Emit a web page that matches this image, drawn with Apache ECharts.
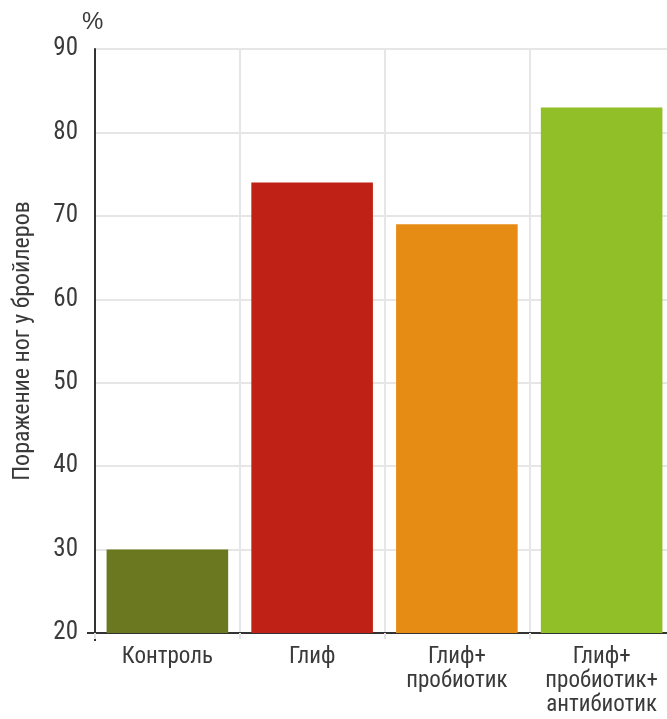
<!DOCTYPE html>
<html>
<head>
<meta charset="utf-8">
<script src="https://cdn.jsdelivr.net/npm/echarts@6/dist/echarts.min.js"></script>
<style>
  html, body { margin: 0; padding: 0; background: #fff; overflow: hidden; }
  #chart { width: 674px; height: 719px; }
</style>
</head>
<body>
<div id="chart"></div>
<script>
// Leg lesion rate in broilers by treatment group, %
const categories = ['Контроль', 'Глиф', 'Глиф+\nпробиотик', 'Глиф+\nпробиотик+\nантибиотик'];
const values = [30, 74, 69, 83];
const barColors = ['#6b781f', '#c02116', '#e68c15', '#91bf27'];
const yTicks = { min: 20, max: 90, step: 10 };

const condensed = '"Roboto Condensed", "Liberation Sans Narrow", "Liberation Sans", Arial, sans-serif';
const textColor = '#3a3a3a';

const chart = echarts.init(document.getElementById('chart'));
chart.setOption({
  animation: false,
  title: {
    text: '%', left: 82, top: 10, padding: 0,
    textStyle: { color: textColor, fontFamily: '"Liberation Sans", Arial, sans-serif', fontSize: 24, fontWeight: 'normal' }
  },
  grid: { left: 95, right: 0, top: 49, bottom: 86, outerBoundsMode: 'none', containLabel: false },
  xAxis: {
    type: 'category',
    data: categories,
    boundaryGap: true,
    axisLine: { lineStyle: { color: '#333', width: 2 } },
    axisTick: { show: true, length: 6, lineStyle: { color: '#e3e3e3', width: 2 } },
    splitLine: { show: true, lineStyle: { color: '#e6e6e6', width: 2 } },
    axisLabel: {
      color: textColor, fontFamily: condensed, fontSize: 23, lineHeight: 24,
      margin: 12, interval: 0
    }
  },
  yAxis: {
    type: 'value',
    min: yTicks.min, max: yTicks.max, interval: yTicks.step,
    name: 'Поражение ног у бройлеров',
    nameLocation: 'middle',
    nameRotate: 90,
    nameGap: 60,
    nameTextStyle: { color: textColor, fontFamily: condensed, fontSize: 24 },
    axisLine: { show: true, lineStyle: { color: '#333', width: 2 } },
    axisTick: { show: false },
    splitLine: { show: true, lineStyle: { color: '#e6e6e6', width: 2 } },
    axisLabel: { color: textColor, fontFamily: condensed, fontSize: 25, margin: 17 }
  },
  series: [{
    type: 'bar',
    data: values.map((v, i) => ({ value: v, itemStyle: { color: barColors[i] } })),
    barCategoryGap: '16%'
  }]
});

// Small cross where the two axes meet
const originPx = chart.convertToPixel({ yAxisIndex: 0 }, yTicks.min);
const axisX = 95;
chart.setOption({
  graphic: [
    { type: 'line', shape: { x1: axisX - 8, y1: originPx, x2: axisX, y2: originPx },
      style: { stroke: '#333', lineWidth: 2 } },
    { type: 'line', shape: { x1: axisX, y1: originPx, x2: axisX, y2: originPx + 8 },
      style: { stroke: '#333', lineWidth: 2 } }
  ]
});
</script>
</body>
</html>
